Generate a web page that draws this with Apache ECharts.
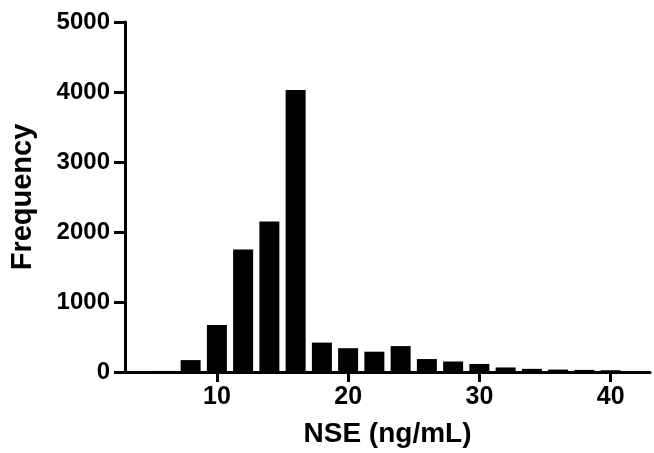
<!DOCTYPE html>
<html>
<head>
<meta charset="utf-8">
<script src="https://cdn.jsdelivr.net/npm/echarts@6/dist/echarts.min.js"></script>
<style>
  html, body { margin: 0; padding: 0; background: #fff; }
  #chart { width: 654px; height: 453px; }
</style>
</head>
<body>
<div id="chart"></div>
<script>
// bin centres (ng/mL) and counts
var binCentres = [6, 8, 10, 12, 14, 16, 18, 20, 22, 24, 26, 28, 30, 32, 34, 36, 38, 40];
var counts = [15, 170, 670, 1750, 2150, 4030, 420, 340, 290, 370, 185, 150, 115, 65, 45, 35, 30, 25];
var xTicks = [10, 20, 30, 40];
var yTicks = [0, 1000, 2000, 3000, 4000, 5000];

var font = 'Liberation Sans, Arial, sans-serif';

var chart = echarts.init(document.getElementById('chart'));

var option = {
  animation: false,
  grid: { left: 123, right: 4, top: 22, bottom: 81 },
  xAxis: {
    type: 'value',
    min: 3,
    max: 43,
    name: 'NSE (ng/mL)',
    nameLocation: 'middle',
    nameGap: 48,
    nameTextStyle: { fontFamily: font, fontWeight: 'bold', fontSize: 28, color: '#000' },
    axisLine: { show: true, lineStyle: { color: '#000', width: 3 } },
    axisTick: { show: true, length: 10, lineStyle: { color: '#000', width: 3 }, customValues: xTicks },
    axisLabel: { margin: 13, fontFamily: font, fontWeight: 'bold', fontSize: 25, color: '#000', customValues: xTicks },
    splitLine: { show: false }
  },
  yAxis: {
    type: 'value',
    min: yTicks[0],
    max: yTicks[yTicks.length - 1],
    interval: 1000,
    name: 'Frequency',
    nameLocation: 'middle',
    nameGap: 88,
    nameRotate: 90,
    nameTextStyle: { fontFamily: font, fontWeight: 'bold', fontSize: 29, color: '#000' },
    axisLine: { show: true, lineStyle: { color: '#000', width: 3 } },
    axisTick: { show: true, length: 11, lineStyle: { color: '#000', width: 3 } },
    axisLabel: {
      margin: 15, fontFamily: font, fontWeight: 'bold', fontSize: 24, color: '#000',
      formatter: function (v) { return String(v); }
    },
    splitLine: { show: false }
  },
  series: [{
    type: 'bar',
    barWidth: 20,
    itemStyle: { color: '#000' },
    data: binCentres.map(function (x, i) { return [x, counts[i]]; })
  }]
};

chart.setOption(option);
</script>
</body>
</html>
